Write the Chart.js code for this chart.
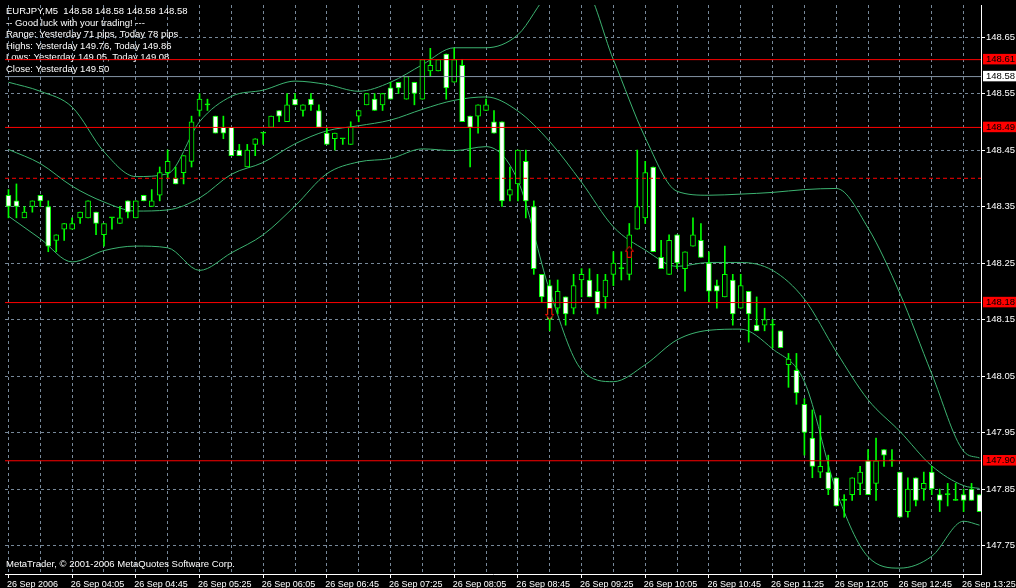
<!DOCTYPE html>
<html>
<head>
<meta charset="utf-8">
<title>EURJPY,M5</title>
<script src="https://cdn.jsdelivr.net/npm/chart.js@4.4.0/dist/chart.umd.min.js"></script>
<style>
  html, body { margin: 0; padding: 0; background: #000; }
  #wrap { position: relative; width: 1016px; height: 588px; }
</style>
</head>
<body>
<div id="wrap"><canvas id="chart"></canvas></div>
<script>
/* ── Data: bar k is 26 Sep 03:25 + k*5 min ─────────────────────────────── */
const opens = [
  148.37, 148.36, 148.33, 148.35, 148.37, 148.35, 148.29, 148.31, 148.31, 148.33,
  148.33, 148.34, 148.30, 148.33, 148.32, 148.36, 148.33, 148.37, 148.35, 148.37,
  148.41, 148.40, 148.41, 148.43, 148.52, 148.53, 148.51, 148.49, 148.49, 148.45,
  148.42, 148.46, 148.48, 148.49, 148.52, 148.50, 148.54, 148.52, 148.54, 148.52,
  148.48, 148.47, 148.47, 148.46, 148.51, 148.53, 148.54, 148.53, 148.56, 148.57,
  148.54, 148.57, 148.54, 148.59, 148.59, 148.62, 148.57, 148.60, 148.51, 148.51,
  148.52, 148.50, 148.50, 148.37, 148.39, 148.43, 148.35, 148.23, 148.21, 148.17,
  148.19, 148.17, 148.22, 148.22, 148.20, 148.19, 148.23, 148.24, 148.23, 148.31,
  148.33, 148.42, 148.26, 148.23, 148.30, 148.24, 148.28, 148.29, 148.25, 148.21,
  148.19, 148.22, 148.17, 148.20, 148.14, 148.14, 148.14, 148.13, 148.07, 148.06,
  148.00, 147.94, 147.88, 147.88, 147.87, 147.83, 147.84, 147.86, 147.90, 147.86,
  147.92, 147.90, 147.88, 147.81, 147.87, 147.85, 147.88, 147.84, 147.84, 147.83,
  147.84, 147.85, 147.84
];
const highs = [
  148.38, 148.39, 148.35, 148.36, 148.37, 148.36, 148.30, 148.32, 148.33, 148.34,
  148.36, 148.34, 148.32, 148.33, 148.35, 148.36, 148.36, 148.37, 148.38, 148.42,
  148.45, 148.42, 148.44, 148.51, 148.55, 148.54, 148.51, 148.51, 148.49, 148.46,
  148.46, 148.47, 148.48, 148.51, 148.52, 148.55, 148.55, 148.53, 148.55, 148.53,
  148.49, 148.48, 148.47, 148.50, 148.52, 148.55, 148.55, 148.55, 148.57, 148.57,
  148.58, 148.57, 148.61, 148.63, 148.61, 148.62, 148.63, 148.61, 148.51, 148.53,
  148.54, 148.52, 148.50, 148.42, 148.45, 148.45, 148.36, 148.23, 148.22, 148.22,
  148.19, 148.23, 148.24, 148.24, 148.23, 148.23, 148.27, 148.27, 148.32, 148.45,
  148.43, 148.42, 148.29, 148.30, 148.30, 148.27, 148.33, 148.32, 148.27, 148.22,
  148.28, 148.23, 148.23, 148.20, 148.19, 148.17, 148.15, 148.13, 148.09, 148.09,
  148.01, 147.99, 147.98, 147.91, 147.87, 147.84, 147.87, 147.89, 147.92, 147.94,
  147.92, 147.92, 147.88, 147.87, 147.87, 147.88, 147.89, 147.85, 147.86, 147.86,
  147.85, 147.86, 147.84
];
const lows = [
  148.33, 148.33, 148.33, 148.34, 148.35, 148.27, 148.27, 148.29, 148.31, 148.32,
  148.33, 148.30, 148.28, 148.31, 148.32, 148.33, 148.33, 148.36, 148.35, 148.36,
  148.40, 148.39, 148.39, 148.42, 148.51, 148.52, 148.48, 148.47, 148.44, 148.44,
  148.42, 148.44, 148.46, 148.49, 148.50, 148.50, 148.53, 148.51, 148.52, 148.49,
  148.46, 148.45, 148.46, 148.46, 148.50, 148.53, 148.52, 148.52, 148.54, 148.55,
  148.54, 148.53, 148.54, 148.58, 148.59, 148.54, 148.57, 148.50, 148.42, 148.48,
  148.52, 148.48, 148.35, 148.36, 148.36, 148.33, 148.23, 148.18, 148.13, 148.16,
  148.14, 148.16, 148.19, 148.19, 148.16, 148.17, 148.21, 148.22, 148.22, 148.31,
  148.32, 148.27, 148.24, 148.23, 148.24, 148.20, 148.28, 148.26, 148.18, 148.17,
  148.19, 148.14, 148.17, 148.11, 148.13, 148.13, 148.10, 148.10, 148.03, 148.00,
  147.91, 147.87, 147.87, 147.84, 147.82, 147.80, 147.83, 147.84, 147.84, 147.83,
  147.89, 147.89, 147.80, 147.80, 147.82, 147.83, 147.84, 147.81, 147.82, 147.83,
  147.81, 147.83, 147.81
];
const closes = [
  148.35, 148.35, 148.34, 148.36, 148.36, 148.28, 148.30, 148.32, 148.32, 148.34,
  148.36, 148.32, 148.32, 148.33, 148.33, 148.34, 148.36, 148.36, 148.36, 148.41,
  148.43, 148.39, 148.44, 148.50, 148.54, 148.53, 148.48, 148.48, 148.44, 148.44,
  148.45, 148.47, 148.48, 148.51, 148.51, 148.53, 148.53, 148.53, 148.53, 148.49,
  148.46, 148.48, 148.47, 148.49, 148.52, 148.55, 148.52, 148.55, 148.54, 148.56,
  148.58, 148.55, 148.61, 148.60, 148.61, 148.56, 148.61, 148.50, 148.49, 148.53,
  148.53, 148.48, 148.36, 148.38, 148.45, 148.36, 148.24, 148.19, 148.15, 148.20,
  148.16, 148.21, 148.23, 148.19, 148.17, 148.22, 148.25, 148.24, 148.30, 148.35,
  148.41, 148.27, 148.24, 148.29, 148.25, 148.27, 148.30, 148.26, 148.20, 148.20,
  148.23, 148.16, 148.21, 148.16, 148.13, 148.15, 148.14, 148.10, 148.08, 148.02,
  147.95, 147.89, 147.89, 147.85, 147.82, 147.83, 147.87, 147.88, 147.84, 147.90,
  147.91, 147.90, 147.80, 147.85, 147.83, 147.86, 147.85, 147.83, 147.84, 147.83,
  147.83, 147.83, 147.81
];

// Bollinger bands
const bandBars = [0, 4, 8, 12, 16, 20, 24, 28, 32, 36, 40, 44, 48, 52, 56, 60,
                  64, 68, 72, 76, 80, 84, 88, 92, 96, 100, 104, 108, 112, 116, 120, 122];
const bandUpper = [148.570, 148.554, 148.526, 148.447, 148.403, 148.408, 148.500, 148.545,
                   148.556, 148.572, 148.566, 148.554, 148.570, 148.601, 148.631, 148.631,
                   148.654, 148.728, 148.742, 148.610, 148.472, 148.377, 148.370, 148.372,
                   148.375, 148.380, 148.382, 148.312, 148.196, 148.054, 147.917, 147.905];
const bandMain  = [148.451, 148.426, 148.386, 148.358, 148.342, 148.344, 148.365, 148.407,
                   148.428, 148.461, 148.484, 148.493, 148.503, 148.522, 148.538, 148.544,
                   148.519, 148.465, 148.393, 148.314, 148.273, 148.244, 148.251, 148.251,
                   148.237, 148.186, 148.093, 148.008, 147.952, 147.891, 147.856, 147.851];
const bandLower = [148.333, 148.293, 148.252, 148.272, 148.280, 148.277, 148.237, 148.268,
                   148.300, 148.351, 148.408, 148.429, 148.435, 148.452, 148.449, 148.456,
                   148.396, 148.201, 148.061, 148.040, 148.070, 148.114, 148.131, 148.133,
                   148.098, 148.040, 147.847, 147.730, 147.710, 147.731, 147.793, 147.786];

const gridBars = [0, 4, 8, 12, 16, 20, 24, 28, 32, 36, 40, 44, 48, 52, 56, 60,
                  64, 68, 72, 76, 80, 84, 88, 92, 96, 100, 104, 108, 112, 116, 120];
const timeTickBars = [0, 8, 16, 24, 32, 40, 48, 56, 64, 72, 80, 88, 96, 104, 112, 120];
const timeTickLabels = ['26 Sep 2006', '26 Sep 04:05', '26 Sep 04:45', '26 Sep 05:25',
  '26 Sep 06:05', '26 Sep 06:45', '26 Sep 07:25', '26 Sep 08:05', '26 Sep 08:45',
  '26 Sep 09:25', '26 Sep 10:05', '26 Sep 10:45', '26 Sep 11:25', '26 Sep 12:05',
  '26 Sep 12:45', '26 Sep 13:25'];
const priceTicks = [148.65, 148.55, 148.45, 148.35, 148.25, 148.15, 148.05, 147.95, 147.85, 147.75];

const redLevels = [148.61, 148.49, 148.18, 147.90];
const bidLevel = 148.58;
const dashedLevel = 148.40;

const sellArrow = [{ x: 68, y: 148.16 }];
const buyArrow  = [{ x: 78, y: 148.27 }];

const infoLines = [
  'EURJPY,M5  148.58 148.58 148.58 148.58',
  '-- Good luck with your trading! ---',
  'Range: Yesterday 71 pips, Today 78 pips',
  'Highs: Yesterday 149.76, Today 149.86',
  'Lows: Yesterday 149.05, Today 149.08',
  'Close: Yesterday 149.50',
];
const copyright = 'MetaTrader, \u00A9 2001-2006 MetaQuotes Software Corp.';

/* ── Helpers ────────────────────────────────────────────────────────────── */
const X_MIN = -0.4375, X_MAX = 122.1875;
const Y_MIN = 147.6996, Y_MAX = 148.7067;
const FONT = '"Liberation Sans", Arial, sans-serif';
const LIME = '#00ff00', GRID = '#778899', BAND = '#3cb371';

const levelKey = v => v.toFixed(2);
const redSet = new Set(redLevels.map(levelKey));
const gridSet = new Set(priceTicks.map(levelKey));

function hline(v) {
  return [{ x: X_MIN, y: v }, { x: X_MAX, y: v }];
}

function arrowCanvas(up) {
  const c = document.createElement('canvas');
  c.width = 9; c.height = 12;
  const g = c.getContext('2d');
  g.beginPath();
  if (up) {
    g.moveTo(4.5, 0.5); g.lineTo(8.5, 5.5); g.lineTo(6.5, 5.5); g.lineTo(6.5, 11.5);
    g.lineTo(2.5, 11.5); g.lineTo(2.5, 5.5); g.lineTo(0.5, 5.5);
  } else {
    g.moveTo(2.5, 0.5); g.lineTo(6.5, 0.5); g.lineTo(6.5, 6.5); g.lineTo(8.5, 6.5);
    g.lineTo(4.5, 11.5); g.lineTo(0.5, 6.5); g.lineTo(2.5, 6.5);
  }
  g.closePath();
  g.fillStyle = '#000'; g.fill();
  g.strokeStyle = '#ff0000'; g.lineWidth = 1; g.stroke();
  return c;
}

const bandSet = (values) => ({
  type: 'line',
  data: bandBars.map((k, i) => ({ x: k, y: values[i] })),
  borderColor: BAND,
  borderWidth: 1,
  pointRadius: 0,
  cubicInterpolationMode: 'monotone',
  order: 4,
});

const levelSet = (v, color, dash) => ({
  type: 'line',
  data: hline(v),
  borderColor: color,
  borderWidth: 1,
  borderDash: dash || [],
  pointRadius: 0,
  order: 0,
});

/* ── Overlay text ───────────────────────────────────────────────────────── */
const textPlugin = {
  id: 'mtText',
  beforeDatasetsDraw(chart) {
    const ctx = chart.ctx;
    ctx.save();
    ctx.font = '9.5px ' + FONT;
    ctx.fillStyle = '#ffffff';
    ctx.textBaseline = 'alphabetic';
    infoLines.forEach((t, i) => ctx.fillText(t, 6, 14 + i * 11.6));
    ctx.fillText(copyright, 6, 566.5);
    ctx.restore();
  },
};

/* ── Chart ──────────────────────────────────────────────────────────────── */
Chart.defaults.font.family = FONT;
Chart.defaults.font.size = 9.5;
Chart.defaults.color = '#ffffff';

new Chart(document.getElementById('chart'), {
  type: 'bar',
  data: {
    datasets: [
      bandSet(bandUpper),
      bandSet(bandMain),
      bandSet(bandLower),
      {
        type: 'bar',
        data: lows.map((l, k) => ({ x: k, y: [l, highs[k]] })),
        backgroundColor: LIME,
        barThickness: 1,
        grouped: false,
        order: 3,
      },
      {
        type: 'bar',
        data: opens.map((o, k) => ({ x: k, y: [o, closes[k]] })),
        backgroundColor: opens.map((o, k) =>
          closes[k] < o ? '#ffffff' : closes[k] > o ? '#000000' : LIME),
        borderColor: LIME,
        borderWidth: 1,
        borderSkipped: false,
        barThickness: 5,
        minBarLength: 1,
        grouped: false,
        order: 2,
      },
      ...redLevels.map(v => levelSet(v, '#ff0000')),
      levelSet(bidLevel, '#8494a6'),
      levelSet(dashedLevel, '#ff0000', [4, 3]),
      { type: 'scatter', data: sellArrow, pointStyle: arrowCanvas(false), order: 0 },
      { type: 'scatter', data: buyArrow, pointStyle: arrowCanvas(true), order: 0 },
    ],
  },
  options: {
    responsive: true,
    maintainAspectRatio: false,
    animation: false,
    events: [],
    layout: { padding: 0 },
    plugins: { legend: { display: false }, tooltip: { enabled: false } },
    scales: {
      x: {
        type: 'linear',
        min: X_MIN,
        max: X_MAX,
        offset: false,
        afterBuildTicks: s => { s.ticks = gridBars.map(v => ({ value: v })); },
        afterFit: s => { s.height = 14; s.paddingLeft = 0; s.paddingRight = 0; },
        ticks: {
          autoSkip: false,
          maxRotation: 0,
          align: 'start',
          labelOffset: -1.5,
          padding: 1,
          color: '#ffffff',
          font: { size: 9 },
          callback: v => {
            const i = timeTickBars.indexOf(v);
            return i >= 0 ? timeTickLabels[i] : '';
          },
        },
        grid: {
          offset: false,
          color: GRID,
          tickLength: 4,
          tickColor: c => (timeTickBars.includes(c.tick && c.tick.value) ? '#ffffff' : 'transparent'),
        },
        border: { color: '#ffffff', dash: [3, 3] },
      },
      y: {
        type: 'linear',
        position: 'right',
        min: Y_MIN,
        max: Y_MAX,
        afterBuildTicks: s => {
          s.ticks = [...priceTicks, ...redLevels, bidLevel].map(v => ({ value: v }));
        },
        afterFit: s => { s.width = 35; s.paddingTop = 0; s.paddingBottom = 0; },
        ticks: {
          autoSkip: false,
          padding: 1,
          font: { lineHeight: 1 },
          callback: v => v.toFixed(2),
          color: c => (gridSet.has(levelKey(c.tick.value)) ? '#ffffff' : '#000000'),
          showLabelBackdrop: c => !gridSet.has(levelKey(c.tick.value)),
          backdropColor: c => (redSet.has(levelKey(c.tick.value)) ? '#ff0000' : '#ffffff'),
          backdropPadding: { left: 3, right: 4, top: 1, bottom: 0 },
        },
        grid: {
          tickLength: 4,
          color: c => (c.tick && gridSet.has(levelKey(c.tick.value)) ? GRID : 'transparent'),
          tickColor: c => (c.tick && gridSet.has(levelKey(c.tick.value)) ? '#ffffff' : 'transparent'),
        },
        border: { color: '#ffffff', dash: [3, 3] },
      },
    },
  },
  plugins: [textPlugin],
});
</script>
</body>
</html>
